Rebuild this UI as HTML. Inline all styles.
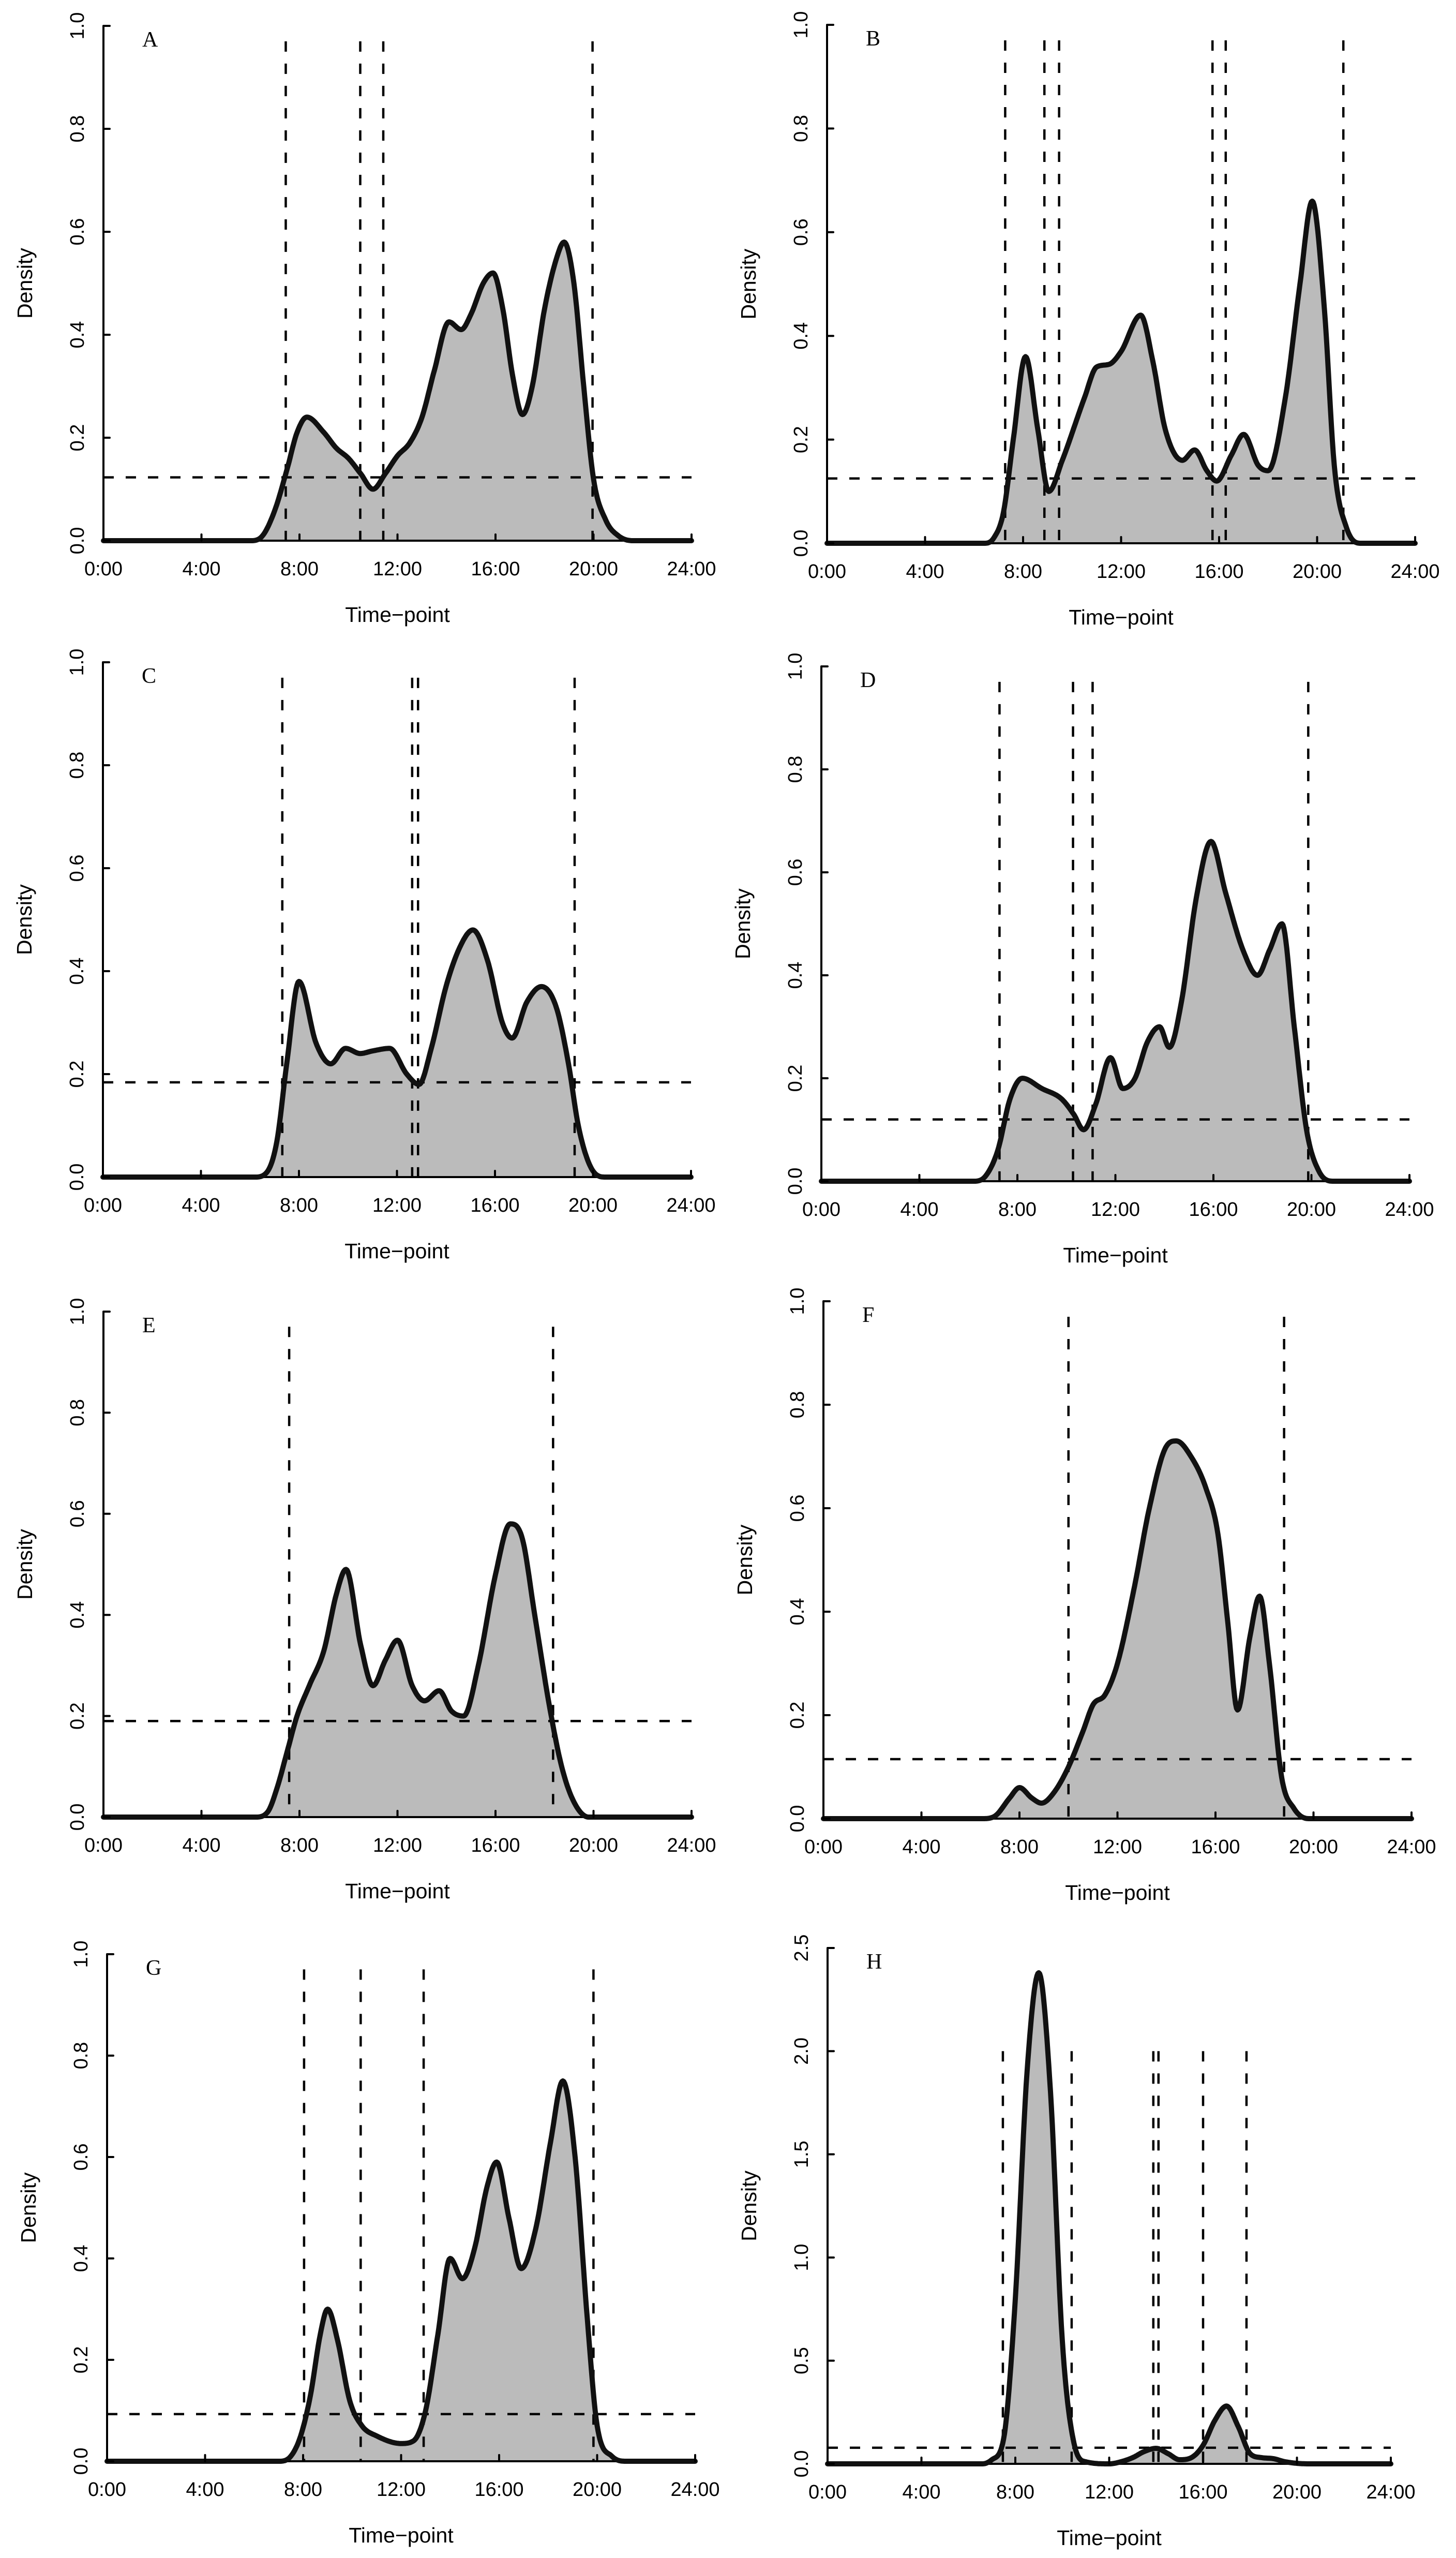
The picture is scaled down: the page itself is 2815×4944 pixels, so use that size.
<!DOCTYPE html>
<html><head><meta charset="utf-8"><title>Density plots</title>
<style>
html,body{margin:0;padding:0;background:#fff;}
svg{display:block;}
</style></head>
<body>
<svg id="fig" xmlns="http://www.w3.org/2000/svg" width="2815" height="4944" viewBox="0 0 2815 4944"></svg>
<script>
// ---- Data (hours / density) ----
const hoursA = [0,6.0,6.5,7.0,7.5,7.9,8.3,9.0,9.5,10.0,10.5,11.0,11.5,12.0,12.5,13.0,13.5,14.1,14.6,15.0,15.5,15.9,16.3,16.7,17.1,17.5,18.0,18.5,18.8,19.2,19.6,20.0,20.5,21.0,21.6,24];
const densA = [0,0,0.01,0.06,0.14,0.21,0.24,0.21,0.18,0.16,0.13,0.10,0.13,0.165,0.19,0.24,0.33,0.425,0.41,0.44,0.50,0.52,0.45,0.32,0.245,0.30,0.45,0.55,0.58,0.50,0.30,0.12,0.04,0.01,0,0];
const cutsA = [7.44,10.48,11.42,19.96];
const threshA = 0.123;

const hoursB = [0,6.4,6.8,7.2,7.6,8.1,8.6,9.05,9.6,10.5,11.0,11.5,12.0,12.8,13.3,13.8,14.5,15.0,15.5,15.9,16.5,17.0,17.6,18.0,18.7,19.3,19.8,20.3,20.7,21.2,21.8,24];
const densB = [0,0,0.01,0.06,0.2,0.36,0.22,0.10,0.16,0.28,0.34,0.345,0.37,0.44,0.35,0.22,0.16,0.18,0.14,0.12,0.17,0.21,0.15,0.14,0.28,0.50,0.66,0.45,0.15,0.03,0,0];
const cutsB = [7.27,8.87,9.47,15.73,16.27,21.07];
const threshB = 0.125;

const hoursC = [0,6.2,6.7,7.1,7.5,8.0,8.7,9.3,9.9,10.5,11.0,11.7,12.4,12.9,13.4,14.0,14.6,15.1,15.7,16.3,16.7,17.3,17.9,18.5,19.0,19.4,19.9,20.5,24];
const densC = [0,0,0.01,0.07,0.22,0.38,0.26,0.22,0.25,0.24,0.245,0.25,0.20,0.18,0.25,0.37,0.45,0.48,0.42,0.30,0.27,0.34,0.37,0.33,0.22,0.10,0.02,0,0];
const cutsC = [7.32,12.62,12.86,19.25];
const threshC = 0.184;

const hoursD = [0,6.2,6.7,7.2,7.7,8.2,9.0,9.8,10.3,10.7,11.2,11.8,12.3,12.8,13.3,13.8,14.2,14.7,15.3,15.9,16.5,17.2,17.8,18.3,18.8,19.3,19.8,20.3,20.9,24];
const densD = [0,0,0.01,0.06,0.16,0.20,0.18,0.16,0.13,0.10,0.15,0.24,0.18,0.20,0.27,0.30,0.26,0.35,0.55,0.66,0.56,0.45,0.40,0.45,0.50,0.30,0.10,0.02,0,0];
const cutsD = [7.27,10.27,11.07,19.87];
const threshD = 0.12;

const hoursE = [0,6.2,6.7,7.1,7.5,7.9,8.4,9.0,9.5,9.9,10.5,11.0,11.5,12.0,12.6,13.1,13.7,14.2,14.7,15.3,16.0,16.6,17.1,17.6,18.2,18.7,19.2,19.8,24];
const densE = [0,0,0.01,0.06,0.13,0.20,0.26,0.33,0.44,0.49,0.34,0.26,0.31,0.35,0.26,0.23,0.25,0.21,0.20,0.30,0.48,0.58,0.55,0.40,0.22,0.10,0.03,0,0];
const cutsE = [7.58,18.35];
const threshE = 0.19;

const hoursF = [0,6.5,7.0,7.6,8.0,8.5,8.9,9.4,10.0,10.6,11.0,11.5,12.0,12.7,13.3,14.0,14.4,15.0,15.6,16.1,16.5,16.9,17.4,17.8,18.2,18.7,19.2,19.8,24];
const densF = [0,0,0.005,0.04,0.06,0.04,0.03,0.05,0.10,0.17,0.22,0.24,0.30,0.45,0.60,0.72,0.73,0.70,0.64,0.55,0.38,0.21,0.35,0.43,0.30,0.08,0.02,0,0];
const cutsF = [10.0,18.8];
const threshF = 0.115;

const hoursG = [0,7.0,7.5,7.9,8.3,8.7,9.0,9.4,9.9,10.4,11.0,12.0,12.5,13.0,13.5,14.0,14.5,15.0,15.5,15.9,16.4,16.9,17.5,18.1,18.6,19.1,19.6,20.0,20.6,21.2,24];
const densG = [0,0,0.01,0.05,0.13,0.25,0.30,0.24,0.12,0.07,0.05,0.035,0.04,0.10,0.25,0.40,0.36,0.42,0.54,0.59,0.48,0.38,0.46,0.63,0.75,0.60,0.28,0.07,0.01,0,0];
const cutsG = [8.04,10.35,12.92,19.85];
const threshG = 0.093;

const hoursH = [0,6.6,7.0,7.5,8.0,8.5,9.0,9.5,10.0,10.5,11.0,12.0,12.5,13.0,13.5,14.0,14.5,15.0,15.5,16.0,16.5,17.0,17.5,18.0,18.5,19.0,19.5,20.5,24];
const densH = [0,0,0.02,0.12,0.8,1.9,2.38,1.8,0.6,0.1,0.01,0,0.01,0.03,0.06,0.075,0.05,0.02,0.03,0.09,0.21,0.28,0.18,0.05,0.03,0.025,0.01,0,0];
const cutsH = [7.47,10.4,13.88,14.1,16.0,17.85];
const threshH = 0.078;

const yTicksUnit = ["0.0","0.2","0.4","0.6","0.8","1.0"];
const yTicksH = ["0.0","0.5","1.0","1.5","2.0","2.5"];
const xTickLabels = ["0:00","4:00","8:00","12:00","16:00","20:00","24:00"];

// ---- Layout ----
const panels = [
 {id:"A",h:hoursA,d:densA,c:cutsA,t:threshA,x0:200,x1:1337,yt:50,yb:1045,ymax:1,ticks:yTicksUnit,cutTop:0.97},
 {id:"B",h:hoursB,d:densB,c:cutsB,t:threshB,x0:1599,x1:2736,yt:48,yb:1050,ymax:1,ticks:yTicksUnit,cutTop:0.97},
 {id:"C",h:hoursC,d:densC,c:cutsC,t:threshC,x0:199,x1:1336,yt:1280,yb:2275,ymax:1,ticks:yTicksUnit,cutTop:0.97},
 {id:"D",h:hoursD,d:densD,c:cutsD,t:threshD,x0:1588,x1:2725,yt:1288,yb:2283,ymax:1,ticks:yTicksUnit,cutTop:0.97},
 {id:"E",h:hoursE,d:densE,c:cutsE,t:threshE,x0:200,x1:1337,yt:2535,yb:3512,ymax:1,ticks:yTicksUnit,cutTop:0.97},
 {id:"F",h:hoursF,d:densF,c:cutsF,t:threshF,x0:1592,x1:2729,yt:2515,yb:3515,ymax:1,ticks:yTicksUnit,cutTop:0.97},
 {id:"G",h:hoursG,d:densG,c:cutsG,t:threshG,x0:207,x1:1344,yt:3777,yb:4757,ymax:1,ticks:yTicksUnit,cutTop:0.97},
 {id:"H",h:hoursH,d:densH,c:cutsH,t:threshH,x0:1600,x1:2689,yt:3765,yb:4762,ymax:2.5,ticks:yTicksH,cutTop:2.0}
];

const NS="http://www.w3.org/2000/svg";
const svg=document.getElementById("fig");
function mk(tag,attrs,parent){const e=document.createElementNS(NS,tag);for(const k in attrs)e.setAttribute(k,attrs[k]);(parent||svg).appendChild(e);return e;}

// monotone cubic (Fritsch-Carlson) sampled in data space
function monotoneSample(xs,ys,step){
  const n=xs.length,dx=[],m=[],t=new Array(n);
  for(let i=0;i<n-1;i++){dx.push(xs[i+1]-xs[i]);m.push((ys[i+1]-ys[i])/dx[i]);}
  t[0]=m[0];t[n-1]=m[n-2];
  for(let i=1;i<n-1;i++){t[i]=(m[i-1]*m[i]<=0)?0:(m[i-1]+m[i])/2;}
  for(let i=0;i<n-1;i++){
    if(m[i]===0){t[i]=0;t[i+1]=0;continue;}
    const a=t[i]/m[i],b=t[i+1]/m[i],s=a*a+b*b;
    if(s>9){const k=3/Math.sqrt(s);t[i]=k*a*m[i];t[i+1]=k*b*m[i];}
  }
  const out=[];
  for(let i=0;i<n-1;i++){
    const steps=Math.max(1,Math.ceil(dx[i]/step));
    for(let j=0;j<steps;j++){
      const u=j/steps,h=dx[i];
      const h00=2*u*u*u-3*u*u+1,h10=u*u*u-2*u*u+u,h01=-2*u*u*u+3*u*u,h11=u*u*u-u*u;
      out.push([xs[i]+u*h,h00*ys[i]+h10*h*t[i]+h01*ys[i+1]+h11*h*t[i+1]]);
    }
  }
  out.push([xs[n-1],ys[n-1]]);
  return out;
}

panels.forEach(p=>{
  const g=mk("g",{});
  
  
  const xs=h=>p.x0+(p.x1-p.x0)*h/24;
  const ys=v=>p.yb-(p.yb-p.yt)*v/p.ymax;
  const samp=monotoneSample(p.h,p.d,0.04);
  const line="M"+samp.map(q=>xs(q[0]).toFixed(1)+","+Math.min(ys(Math.max(q[1],0)),p.yb).toFixed(1)).join(" L");
  const area=mk("path",{d:line+" L"+xs(24)+","+p.yb+" L"+xs(0)+","+p.yb+" Z",fill:"#bbbbbb",stroke:"none"},g);
  
  
  const th=mk("line",{x1:p.x0,x2:p.x1,y1:ys(p.t),y2:ys(p.t),stroke:"#000","stroke-width":4.5,"stroke-dasharray":"20 23"},g);
  
  
  p.c.forEach(c=>{
    const v=mk("line",{x1:xs(c),x2:xs(c),y1:ys(p.cutTop),y2:p.yb,stroke:"#000","stroke-width":4.5,"stroke-dasharray":"20 23"},g);
    
    
  });
  const ya=mk("line",{x1:p.x0,x2:p.x0,y1:p.yt,y2:p.yb,stroke:"#000","stroke-width":4},g);
  
  
  const xa=mk("line",{x1:p.x0,x2:p.x1,y1:p.yb,y2:p.yb,stroke:"#000","stroke-width":4,"stroke-linecap":"round"},g);
  
  
  const cv=mk("path",{d:line,fill:"none",stroke:"#111","stroke-width":10,"stroke-linejoin":"round","stroke-linecap":"round"},g);
  
  
  p.ticks.forEach((t,i)=>{
    const v=p.ymax*i/(p.ticks.length-1), y=ys(v);
    const tk=mk("line",{x1:p.x0,x2:p.x0+12,y1:y,y2:y,stroke:"#000","stroke-width":4,"stroke-linecap":"round"},g);
    
    
    const tx=mk("text",{x:0,y:0,transform:"translate("+(p.x0-50)+","+y+") rotate(-90)","text-anchor":"middle","dominant-baseline":"central","font-family":"Liberation Sans, sans-serif","font-size":38},g);
    tx.textContent=t;
    
    
  });
  xTickLabels.forEach((t,i)=>{
    const x=xs(i*4);
    const tk=mk("line",{x1:x,x2:x,y1:p.yb,y2:p.yb-12,stroke:"#000","stroke-width":4,"stroke-linecap":"round"},g);
    
    
    const tx=mk("text",{x:x,y:p.yb+67,"text-anchor":"middle","font-family":"Liberation Sans, sans-serif","font-size":38},g);
    tx.textContent=t;
    
    
  });
  const xt=mk("text",{x:(p.x0+p.x1)/2,y:p.yb+157,"text-anchor":"middle","font-family":"Liberation Sans, sans-serif","font-size":41},g);
  xt.textContent="Time\u2212point";
  
  
  const yt=mk("text",{x:0,y:0,transform:"translate("+(p.x0-152)+","+((p.yt+p.yb)/2)+") rotate(-90)","text-anchor":"middle","dominant-baseline":"central","font-family":"Liberation Sans, sans-serif","font-size":41},g);
  yt.textContent="Density";
  
  
  const lb=mk("text",{x:p.x0+75,y:p.yt+40,"font-family":"Liberation Serif, serif","font-size":42},g);
  lb.textContent=p.id;
  
  
});
</script>
</body></html>
